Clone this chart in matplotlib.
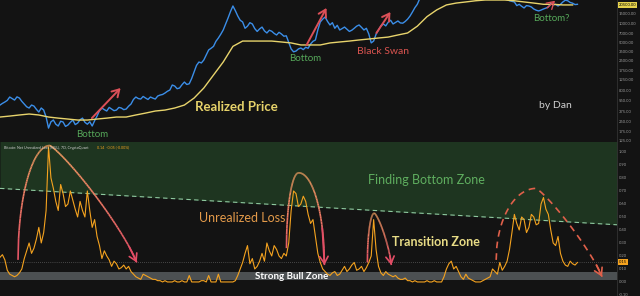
import numpy as np
import pandas as pd
import matplotlib
matplotlib.use("Agg")
import matplotlib.pyplot as plt
import matplotlib.dates as mdates
from matplotlib.collections import LineCollection
from matplotlib.lines import Line2D
from matplotlib.ticker import FixedLocator, FuncFormatter, NullLocator

plt.rcParams['font.family'] = ['Lato', 'DejaVu Sans']

# data (one point every 14 days)
dates = pd.date_range("2014-04-15", periods=239, freq="14D")
realized_dates = pd.date_range("2014-04-15", periods=60, freq="56D")

price = [470, 500, 527, 560, 636, 600, 567, 640, 612, 540,
         488, 440, 420, 470, 452, 400, 361, 420, 389, 300,
         197, 250, 267, 228, 213, 255, 248, 210, 221, 245,
         267, 225, 238, 270, 287, 245, 228, 250, 213, 260,
         310, 380, 420, 395, 375, 430, 404, 380, 389, 430,
         420, 395, 404, 450, 488, 580, 636, 600, 589, 650,
         612, 580, 636, 610, 589, 660, 685, 700, 739, 790,
         828, 1000, 963, 870, 893, 1010, 1119, 1020, 1050, 1280,
         1632, 2100, 2382, 2300, 2570, 3100, 3750, 4000, 4300, 5200,
         5890, 6800, 7970, 10000, 12540, 16000, 19700, 16500, 13500, 11500,
         10790, 8500, 9200, 10500, 10000, 8400, 7550, 8300, 8900, 7700,
         7120, 7900, 7600, 7000, 6600, 7300, 6850, 6300, 6400, 5000,
         3900, 3500, 3600, 3900, 4040, 3800, 4150, 4000, 4700, 5200,
         5470, 8000, 10790, 12000, 13000, 11000, 9630, 10500, 8500, 9500,
         7970, 8400, 8900, 8200, 7550, 7900, 8500, 9200, 9630, 8800,
         7970, 8500, 6850, 4900, 5250, 6800, 7970, 9300, 10000, 9300,
         10700, 11500, 10000, 10600, 11200, 10400, 10300, 11000, 12000, 13500,
         15730, 18500, 21000, 26000, 30000, 36000, 40000, 48000, 55000, 50000,
         58000, 52000, 45000, 37000, 35000, 34000, 38000, 42000, 45000, 46000,
         48000, 56000, 60000, 55000, 50000, 48000, 45000, 42000, 40000, 44000,
         42000, 40000, 38000, 34000, 30000, 29000, 28000, 27000, 26000, 25000,
         24000, 23500, 22950, 20000, 21000, 19500, 18300, 20000, 19700, 19000,
         17600, 16800, 16350, 16900, 17600, 18200, 19000, 21500, 20500, 21000,
         19700, 21000, 22950, 24500, 24000, 22500, 21900, 20800, 21000]

# realized price, every 56 days
realized_price = [299, 310, 323, 335, 323, 299, 287, 277, 267, 267,
                  277, 287, 299, 299, 323, 347, 375, 389, 420, 470,
                  612, 893, 1459, 2382, 4300, 5250, 5250, 5250, 5250, 5070,
                  4890, 4530, 4530, 4530, 4890, 5070, 5250, 5470, 5670, 5890,
                  6100, 6600, 7120, 9200, 13200, 17000, 20500, 22000, 22950, 24000,
                  24700, 24700, 24700, 24000, 22950, 22000, 21000, 21000, 20500, 20500]

nul = [0.19, 0.21, 0.17, 0.09, 0.06, 0.05, 0.04, 0.05, 0.07, 0.10,
       0.18, 0.24, 0.30, 0.22, 0.26, 0.33, 0.42, 0.30, 0.38, 0.55,
       1.04, 0.80, 0.72, 0.62, 0.55, 0.75, 0.68, 0.58, 0.60, 0.70,
       0.63, 0.56, 0.50, 0.62, 0.55, 0.50, 0.70, 0.55, 0.42, 0.48,
       0.35, 0.28, 0.18, 0.24, 0.20, 0.17, 0.12, 0.16, 0.14, 0.10,
       0.11, 0.13, 0.10, 0.12, 0.08, 0.06, 0.04, 0.03, 0.02, 0.06,
       0.05, 0.04, 0.03, 0.02, 0.02, 0.01, 0.01, 0.00, 0.01, 0.00,
       0.00, 0.00, 0.01, 0.00, 0.00, 0.01, 0.00, 0.00, 0.05, 0.00,
       0.00, 0.00, 0.00, 0.01, 0.01, 0.00, 0.05, 0.00, 0.00, 0.00,
       0.06, 0.00, 0.00, 0.00, 0.00, 0.00, 0.00, 0.01, 0.05, 0.10,
       0.15, 0.22, 0.28, 0.14, 0.18, 0.10, 0.12, 0.16, 0.22, 0.16,
       0.30, 0.24, 0.20, 0.28, 0.25, 0.20, 0.18, 0.22, 0.20, 0.30,
       0.55, 0.70, 0.68, 0.58, 0.60, 0.66, 0.62, 0.52, 0.45, 0.48,
       0.35, 0.22, 0.15, 0.10, 0.08, 0.06, 0.05, 0.07, 0.08, 0.05,
       0.06, 0.09, 0.12, 0.08, 0.10, 0.13, 0.15, 0.09, 0.10, 0.12,
       0.08, 0.11, 0.15, 0.20, 0.48, 0.25, 0.12, 0.07, 0.05, 0.08,
       0.06, 0.05, 0.04, 0.05, 0.03, 0.02, 0.02, 0.03, 0.01, 0.01,
       0.00, 0.01, 0.00, 0.00, 0.00, 0.00, 0.01, 0.00, 0.00, 0.01,
       0.00, 0.00, 0.00, 0.04, 0.10, 0.14, 0.16, 0.10, 0.12, 0.08,
       0.04, 0.02, 0.06, 0.03, 0.02, 0.01, 0.00, 0.00, 0.00, 0.01,
       0.02, 0.03, 0.04, 0.10, 0.08, 0.06, 0.15, 0.09, 0.12, 0.16,
       0.25, 0.38, 0.52, 0.45, 0.40, 0.50, 0.48, 0.38, 0.42, 0.52,
       0.50, 0.44, 0.45, 0.60, 0.65, 0.56, 0.52, 0.40, 0.30, 0.28,
       0.35, 0.22, 0.16, 0.13, 0.12, 0.16, 0.14, 0.13, 0.15]

price_ticks = [15000, 10000, 7000, 5000, 3500, 2500, 1750, 1250, 800, 550, 375, 250, 175, 125]
nul_ticks = [1.0, 0.9, 0.8, 0.7, 0.6, 0.5, 0.4, 0.3, 0.2, 0.1, 0.0, -0.1]
last_price = 20500
last_nul = 0.154
zone_line = [0.72, 0.44]      # green zone boundary at chart start / end
bull_zone = (0.012, 0.077)


def d(s):
    return mdates.date2num(pd.Timestamp(s))


bg = "#131313"
red = "#dc5058"
x_start, x_end = d("2014-04-15"), d("2024-01-13")

fig = plt.figure(figsize=(6.4, 2.96), dpi=100, facecolor=bg)
ax1 = fig.add_axes([0, 0.5236, 0.964, 0.4764])
ax2 = fig.add_axes([0, 0, 0.964, 0.5203])
for ax in (ax1, ax2):
    ax.set_facecolor(bg)
    ax.set_xlim(x_start, x_end)
    ax.set_xticks([])
    for s in ax.spines.values():
        s.set_visible(False)
    ax.yaxis.tick_right()
    ax.tick_params(axis='y', length=0, pad=1.5, labelsize=2.9, labelcolor="#9a9a9a")
fig.add_artist(Line2D([0.964, 0.964], [0, 1], color="#333333", lw=0.6))

# top panel: price and realized price
ax1.set_yscale('log')
ax1.set_ylim(121, 24700)
ax1.plot(dates, price, color="#3b8ee8", lw=1.0)
ax1.plot(realized_dates, realized_price, color="#e8d46c", lw=1.0)
ax1.yaxis.set_major_locator(FixedLocator(price_ticks))
ax1.yaxis.set_minor_locator(NullLocator())
ax1.yaxis.set_major_formatter(FuncFormatter(lambda v, _: f"{v:.2f}"))
ax1.text(1.003, last_price, f"{last_price:.2f}", transform=ax1.get_yaxis_transform(),
         fontsize=2.9, color="black", va="center", ha="left",
         bbox=dict(boxstyle="square,pad=0.25", fc="#e5d24d", ec="none"))


def arrow(ax, start, end, color=red, lw=1.4):
    ax.annotate("", xy=(d(end[0]), end[1]), xytext=(d(start[0]), start[1]),
                arrowprops=dict(arrowstyle="->,head_length=0.5,head_width=0.3",
                                color=color, lw=lw, shrinkA=0, shrinkB=0))


green_txt = "#56a85a"
ax1.text(d("2015-09-27"), 157, "Bottom", color=green_txt, fontsize=7, ha="center", va="center")
arrow(ax1, ("2015-09-27", 287), ("2016-03-11", 893))
ax1.text(d("2018-01-09"), 436, "Realized Price", color="#e6d26a", fontsize=9.5,
         fontweight="bold", ha="center", va="center")
ax1.text(d("2019-02-11"), 2670, "Bottom", color=green_txt, fontsize=7, ha="center", va="center")
arrow(ax1, ("2019-02-17", 4530), ("2019-06-12", 18300))
ax1.text(d("2020-05-05"), 3480, "Black Swan", color="#d9534f", fontsize=7.5, ha="center", va="center")
arrow(ax1, ("2020-03-26", 7120), ("2020-06-15", 15730))
ax1.text(d("2022-12-29"), 12080, "Bottom?", color=green_txt, fontsize=7, ha="center", va="center")
arrow(ax1, ("2022-12-06", 18300), ("2023-01-21", 24000), lw=1.0)
ax1.text(d("2023-01-21"), 470, "by Dan", color="#d0d0d0", fontsize=7.5, ha="center", va="center")

# bottom panel: net unrealized loss
ax2.set_ylim(-0.108, 1.077)
ax2.fill_between([x_start, x_end], zone_line, 1.2, color="#1e3520", lw=0, zorder=0)
ax2.plot([x_start, x_end], zone_line, color="#8fc9a0", lw=0.8, ls=(0, (4, 3)))
ax2.axhspan(*bull_zone, color="#4c5052", lw=0, zorder=0.5)
ax2.axhline(last_nul, color="#777777", lw=0.5, ls=(0, (1, 2)))
ax2.plot(dates, nul, color="#f5a31f", lw=0.8)
ax2.yaxis.set_major_locator(FixedLocator(nul_ticks))
ax2.yaxis.set_major_formatter(FuncFormatter(lambda v, _: f"{v:.2f}"))
ax2.text(1.003, last_nul, f"{last_nul:.2f}", transform=ax2.get_yaxis_transform(),
         fontsize=2.9, color="black", va="center", ha="left",
         bbox=dict(boxstyle="square,pad=0.25", fc="#f5a31f", ec="none"))

ax2.text(0.007, 0.975, "Bitcoin: Net Unrealized Loss (NUL), 7D, CryptoQuant",
         transform=ax2.transAxes, fontsize=2.6, color="#cfcfcf", va="top", ha="left")
ax2.text(0.158, 0.975, "0.14  -0.05 (-0.00%)", transform=ax2.transAxes,
         fontsize=2.6, color="#f5a31f", va="top", ha="left")


def arc(ax, left, top, right, p_right=2.0, dashed=False):
    x0, y0 = d(left[0]), left[1]
    xa, ya = d(top[0]), top[1]
    x1, y1 = d(right[0]), right[1]
    s = np.linspace(0, 1, 60)
    xl = xa - (xa - x0) * s[::-1]
    yl = y0 + (ya - y0) * np.sqrt(1 - s[::-1] ** 2)
    xr = xa + (x1 - xa) * s
    yr = y1 + (ya - y1) * (1 - s ** p_right) ** (1 / p_right)
    xs = np.concatenate([xl, xr[1:]])
    ys = np.concatenate([yl, yr[1:]])
    if dashed:
        col = "#e0604a"
        ax.plot(xs, ys, color=col, lw=1.2, ls=(0, (4, 3)))
    else:
        pts = np.column_stack([xs, ys]).reshape(-1, 1, 2)
        segs = np.concatenate([pts[:-1], pts[1:]], axis=1)
        lo, hi = min(y0, y1), ya
        frac = np.clip(((ys[:-1] + ys[1:]) / 2 - lo) / (hi - lo), 0, 1)
        c0 = np.array([0.89, 0.30, 0.40])
        c1 = np.array([0.93, 0.62, 0.38])
        cols = c0 + (c1 - c0) * frac[:, None]
        ax.add_collection(LineCollection(segs, colors=cols, lw=1.2))
        col = tuple(c0)
    ax.annotate("", xy=(xs[-1], ys[-1]), xytext=(xs[-6], ys[-6]),
                arrowprops=dict(arrowstyle="->,head_length=0.5,head_width=0.3",
                                color=col, lw=1.2, shrinkA=0, shrinkB=0))


arc(ax2, ("2014-07-28", 0.17), ("2015-01-28", 1.05), ("2016-06-12", 0.15), p_right=1.15)
arc(ax2, ("2018-10-24", 0.26), ("2019-01-02", 0.84), ("2019-05-31", 0.13))
arc(ax2, ("2020-02-03", 0.15), ("2020-03-14", 0.53), ("2020-06-20", 0.13), p_right=1.3)
arc(ax2, ("2022-02-15", 0.17), ("2022-10-04", 0.72), ("2023-10-19", 0.04), p_right=1.15, dashed=True)

ax2.text(d("2018-02-13"), 0.49, "Unrealized Loss", color="#e39a4a", fontsize=9, ha="center", va="center")
ax2.text(d("2021-01-08"), 0.785, "Finding Bottom Zone", color="#5fae5f", fontsize=9, ha="center", va="center")
ax2.text(d("2021-03-07"), 0.31, "Transition Zone", color="#e8dc86", fontsize=9,
         fontweight="bold", ha="center", va="center")
ax2.text(d("2018-11-22"), 0.045, "Strong Bull Zone", color="white", fontsize=7,
         fontweight="bold", ha="center", va="center")

fig.savefig("out.png", dpi=100, facecolor=bg)
